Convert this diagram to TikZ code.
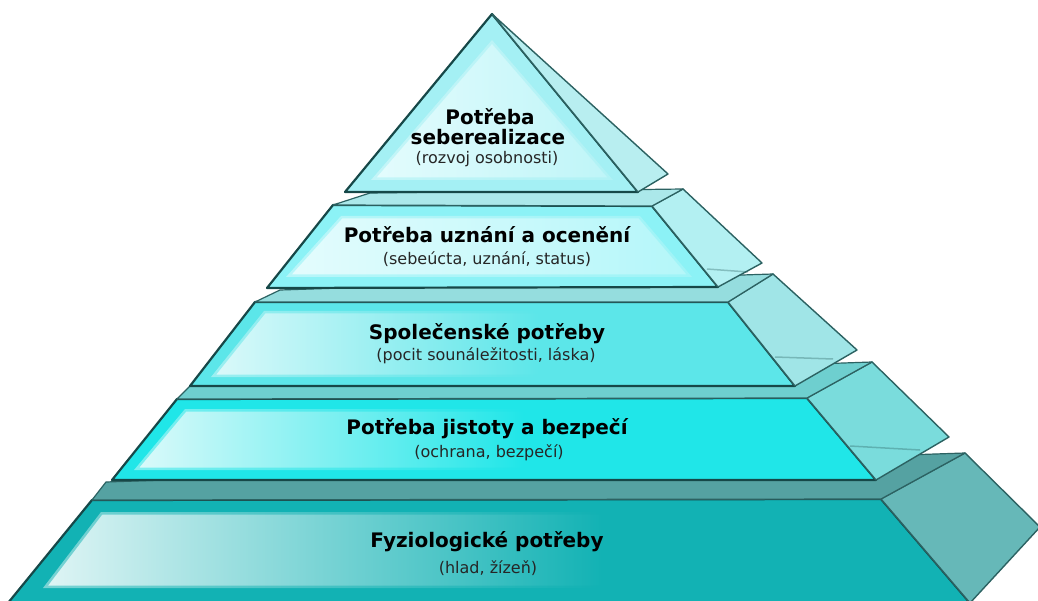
\documentclass[tikz,border=0pt]{standalone}
\usepackage{fontspec}
\setmainfont{DejaVu Sans}
\usetikzlibrary{calc}
\definecolor{edgecol}{HTML}{164848}
\definecolor{edgecolb}{HTML}{2C6262}
\definecolor{fivebase}{HTML}{A4F0F4}
\definecolor{fiveglow}{HTML}{E4FCFD}
\definecolor{fiveside}{HTML}{B8EEF0}
\definecolor{fourbase}{HTML}{8CF2F6}
\definecolor{fourglow}{HTML}{E4FCFD}
\definecolor{fourside}{HTML}{B3F0F2}
\definecolor{ledgefive}{HTML}{ABE8EA}
\definecolor{threebase}{HTML}{5CE6E9}
\definecolor{threeglow}{HTML}{DCF9FA}
\definecolor{threeside}{HTML}{A0E5E7}
\definecolor{ledgefour}{HTML}{95DDDE}
\definecolor{twobase}{HTML}{20E6E8}
\definecolor{twoglow}{HTML}{DCFAFA}
\definecolor{twoside}{HTML}{7ADCDC}
\definecolor{ledgethree}{HTML}{6ECFCF}
\definecolor{onebase}{HTML}{12B2B4}
\definecolor{oneglow}{HTML}{E0F5F5}
\definecolor{oneside}{HTML}{66B8B8}
\definecolor{ledgetwo}{HTML}{55A2A2}
\pgfdeclarehorizontalshading{glowone}{100bp}{color(0bp)=(oneglow); color(25bp)=(oneglow); color(56bp)=(onebase); color(100bp)=(onebase)}
\pgfdeclarehorizontalshading{glowtwo}{100bp}{color(0bp)=(twoglow); color(25bp)=(twoglow); color(52bp)=(twobase); color(100bp)=(twobase)}
\pgfdeclarehorizontalshading{glowthree}{100bp}{color(0bp)=(threeglow); color(25bp)=(threeglow); color(54bp)=(threebase); color(100bp)=(threebase)}
\pgfdeclarehorizontalshading{glowfour}{100bp}{color(0bp)=(fourglow); color(25bp)=(fourglow); color(75bp)=(fourglow!45!fourbase); color(100bp)=(fourbase)}
\pgfdeclarehorizontalshading{glowfive}{100bp}{color(0bp)=(fiveglow); color(25bp)=(fiveglow); color(75bp)=(fiveglow!40!fivebase); color(100bp)=(fivebase)}
\begin{document}
\begin{tikzpicture}[x=1pt,y=-1pt,
  front/.style={draw=edgecol, line width=2.2pt, line join=round},
  sideface/.style={draw=edgecolb, line width=1.4pt, line join=round},
  ledge/.style={draw=edgecolb, line width=1.2pt, line join=round},
  faint/.style={line width=1.5pt, opacity=0.35},
  soft/.style={draw=#1, line width=5pt, draw opacity=0.5, line join=round},
  ttl/.style={font=\fontsize{20}{24}\selectfont\bfseries, text=black, anchor=base, inner sep=0pt},
  subt/.style={font=\fontsize{16}{19}\selectfont, text=black!85, anchor=base, inner sep=0pt}]
\useasboundingbox (0,0) rectangle (1038,601);

% ---------- level 1 ----------
\fill[onebase, front] (92,500) -- (881,499) -- (970,603) -- (8,603) -- cycle;
\shade[shading=glowone] (101,512) -- (878,512) -- (945,588) -- (43,588) -- cycle;
\draw[soft=onebase] (101,512) -- (878,512) -- (945,588) -- (43,588) -- cycle;
\filldraw[fill=oneside, sideface] (881,499) -- (965,453) -- (1040,527) -- (970,603) -- cycle;
\filldraw[fill=ledgetwo, ledge] (92,500) -- (106,482) -- (965,453) -- (881,499) -- cycle;

% ---------- level 2 ----------
\fill[twobase, front] (177,399) -- (807,398) -- (876,480) -- (112,480) -- cycle;
\shade[shading=glowtwo] (185,409) -- (804,409) -- (856,470) -- (134,470) -- cycle;
\draw[soft=twobase] (185,409) -- (804,409) -- (856,470) -- (134,470) -- cycle;
\filldraw[fill=twoside, sideface] (807,398) -- (872,362) -- (949,437) -- (876,480) -- cycle;
\draw[faint, draw=edgecolb] (850,446) -- (920,450);
\filldraw[fill=ledgethree, ledge] (177,399) -- (190,386) -- (872,362) -- (807,398) -- cycle;

% ---------- level 3 ----------
\fill[threebase, front] (255,302) -- (728,302) -- (795,386) -- (190,386) -- cycle;
\shade[shading=glowthree] (264,311) -- (723,311) -- (776,377) -- (211,377) -- cycle;
\draw[soft=threebase] (264,311) -- (723,311) -- (776,377) -- (211,377) -- cycle;
\filldraw[fill=threeside, sideface] (728,302) -- (773,274) -- (857,350) -- (795,386) -- cycle;
\draw[faint, draw=edgecolb] (775,357) -- (833,359);
\filldraw[fill=ledgefour, ledge] (255,302) -- (280,290) -- (773,274) -- (728,302) -- cycle;

% ---------- level 4 ----------
\fill[fourbase, front] (333,205) -- (652,206) -- (718,287) -- (267,288) -- cycle;
\shade[shading=glowfour] (341,216) -- (640,216) -- (692,277) -- (286,277) -- cycle;
\draw[soft=fourbase] (341,216) -- (640,216) -- (692,277) -- (286,277) -- cycle;
\filldraw[fill=fourside, sideface] (652,206) -- (683,189) -- (762,263) -- (718,287) -- cycle;
\draw[faint, draw=edgecolb] (707,269) -- (748,272);
\filldraw[fill=ledgefive, ledge] (333,205) -- (370,193) -- (683,189) -- (652,206) -- cycle;

% ---------- level 5 (top) ----------
\fill[fivebase, front] (492,14) -- (638,192) -- (345,192) -- cycle;
\shade[shading=glowfive] (492,40) -- (613,180) -- (371,180) -- cycle;
\draw[soft=fivebase] (492,40) -- (613,180) -- (371,180) -- cycle;
\filldraw[fill=fiveside, sideface] (492,14) -- (668,174) -- (638,192) -- cycle;

% ---------- texts ----------
\node[ttl] (t5a) at (490,125) {Potřeba};
\node[ttl] (t5b) at (488,145) {seberealizace};
\node[subt] (s5) at (487,164) {(rozvoj osobnosti)};
\node[ttl] (t4) at (487,243) {Potřeba uznání a ocenění};
\node[subt] (s4) at (487,265) {(sebeúcta, uznání, status)};
\node[ttl] (t3) at (487,340) {Společenské potřeby};
\node[subt] (s3) at (486,360) {(pocit sounáležitosti, láska)};
\node[ttl] (t2) at (487,434) {Potřeba jistoty a bezpečí};
\node[subt] (s2) at (489,457) {(ochrana, bezpečí)};
\node[ttl] (t1) at (487,547) {Fyziologické potřeby};
\node[subt] (s1) at (488,573) {(hlad, žízeň)};
\end{tikzpicture}
\end{document}
